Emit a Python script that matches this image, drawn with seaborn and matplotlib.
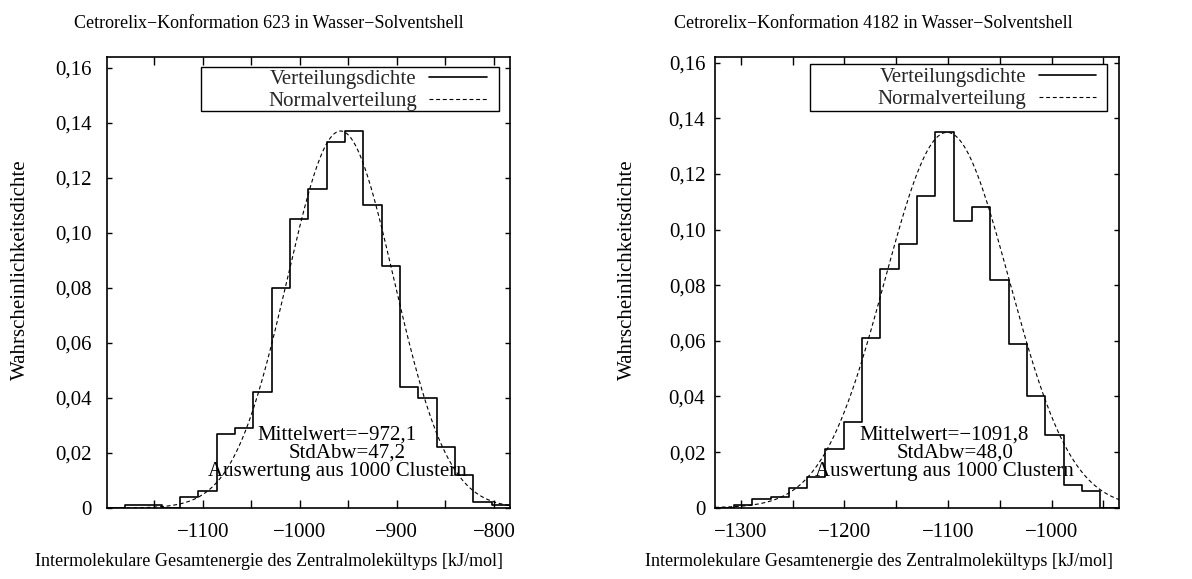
import numpy as np
import pandas as pd
import matplotlib
matplotlib.use("Agg")
import matplotlib.pyplot as plt
import seaborn as sns
from matplotlib.patches import Rectangle
from matplotlib.lines import Line2D

# ---------------- data ----------------
titles = ["Cetrorelix\u2212Konformation 623 in Wasser\u2212Solventshell",
          "Cetrorelix\u2212Konformation 4182 in Wasser\u2212Solventshell"]
xlabel = "Intermolekulare Gesamtenergie des Zentralmolekültyps [kJ/mol]"
ylabel = "Wahrscheinlichkeitsdichte"
legend_labels = ["Verteilungsdichte", "Normalverteilung"]

# left panel (Konformation 623)
left_bin_start = -1198.88
left_bin_width = 18.88
left_density = [0.0, 0.001, 0.001, 0.0, 0.004, 0.006, 0.027, 0.029, 0.042, 0.080, 0.105,
                0.116, 0.133, 0.137, 0.110, 0.088, 0.044, 0.040, 0.022, 0.012, 0.002, 0.001]
left_norm_center, left_norm_sigma, left_norm_peak = -958.0, 55.0, 0.137
left_stats = ["Mittelwert=\u2212972,1", "StdAbw=47,2", "Auswertung aus 1000 Clustern"]
left_xlim = (-1198.9, -783.5)
left_ylim = (0, 0.164)
left_xticks = [-1150, -1100, -1050, -1000, -950, -900, -850, -800]
left_xticklabels = ["", "\u22121100", "", "\u22121000", "", "\u2212900", "", "\u2212800"]

# right panel (Konformation 4182)
right_bin_start = -1324.49
right_bin_width = 17.69
right_density = [0.0, 0.001, 0.003, 0.004, 0.007, 0.011, 0.021, 0.031, 0.061, 0.086, 0.095,
                 0.112, 0.135, 0.103, 0.108, 0.082, 0.059, 0.040, 0.026, 0.008, 0.006, 0.0]
right_norm_center, right_norm_sigma, right_norm_peak = -1101.0, 60.0, 0.135
right_stats = ["Mittelwert=\u22121091,8", "StdAbw=48,0", "Auswertung aus 1000 Clustern"]
right_xlim = (-1325.0, -934.7)
right_ylim = (0, 0.1622)
right_xticks = [-1300, -1250, -1200, -1150, -1100, -1050, -1000, -950]
right_xticklabels = ["\u22121300", "", "\u22121200", "", "\u22121100", "", "\u22121000", ""]

yticks = [0.0, 0.02, 0.04, 0.06, 0.08, 0.10, 0.12, 0.14, 0.16]
yticklabels = ["0", "0,02", "0,04", "0,06", "0,08", "0,10", "0,12", "0,14", "0,16"]

# ---------------- style ----------------
sns.set_theme(style="white")
plt.rcParams["font.family"] = ["Liberation Serif", "DejaVu Serif"]
plt.rcParams["axes.edgecolor"] = "black"
plt.rcParams["axes.linewidth"] = 1.2

W, H = 1192, 579
fig = plt.figure(figsize=(W / 100, H / 100), dpi=100)
fig.patch.set_facecolor("white")

def px_axes(x0, y_top, x1, y_bot):
    return fig.add_axes([x0 / W, 1 - y_bot / H, (x1 - x0) / W, (y_bot - y_top) / H])

ax1 = px_axes(106.7, 56.7, 510.0, 508.0)
ax2 = px_axes(715.0, 56.7, 1119.3, 507.7)

panels = [
    dict(ax=ax1, start=left_bin_start, width=left_bin_width, dens=left_density,
         mu=left_norm_center, sd=left_norm_sigma, pk=left_norm_peak, stats=left_stats,
         xlim=left_xlim, ylim=left_ylim, xt=left_xticks, xtl=left_xticklabels,
         legbox=(0.233, 0.8797, 0.9727, 0.978), stat_x=(0.571, 0.597, 0.571), ypad=11,
         leg_anchor=(0.942, 0.972)),
    dict(ax=ax2, start=right_bin_start, width=right_bin_width, dens=right_density,
         mu=right_norm_center, sd=right_norm_sigma, pk=right_norm_peak, stats=right_stats,
         xlim=right_xlim, ylim=right_ylim, xt=right_xticks, xtl=right_xticklabels,
         legbox=(0.235, 0.880, 0.970, 0.984), stat_x=(0.567, 0.593, 0.567), ypad=7,
         leg_anchor=(0.942, 0.976)),
]

for p in panels:
    ax = p["ax"]
    n = len(p["dens"])
    edges = [float(e) for e in (p["start"] + p["width"] * np.arange(n + 1))]
    centers = [0.5 * (edges[i] + edges[i + 1]) for i in range(n)]
    df = pd.DataFrame({"energy": centers, "dens": p["dens"]})
    sns.histplot(data=df, x="energy", weights="dens", bins=edges, element="step",
                 fill=False, color="black", linewidth=1.2, ax=ax)
    xs = np.linspace(p["xlim"][0], p["xlim"][1], 400)
    curve = pd.DataFrame({"energy": xs,
                          "dens": p["pk"] * np.exp(-0.5 * ((xs - p["mu"]) / p["sd"]) ** 2)})
    sns.lineplot(data=curve, x="energy", y="dens", color="black", linewidth=0.8,
                 linestyle=(0, (3.5, 2.5)), ax=ax)

    ax.set_xlim(*p["xlim"])
    ax.set_ylim(*p["ylim"])
    ax.set_xticks(p["xt"])
    ax.set_xticklabels(p["xtl"])
    ax.set_yticks(yticks)
    ax.set_yticklabels(yticklabels)
    ax.tick_params(axis="x", direction="in", length=5.5, width=1, top=True, bottom=True,
                   labelsize=15, pad=11, colors="black")
    ax.tick_params(axis="y", direction="in", length=3.6, width=1, left=True, right=True,
                   labelsize=15, pad=p["ypad"], colors="black")
    ax.set_xlabel("")
    ax.set_ylabel("")
    for s in ax.spines.values():
        s.set_visible(True)
        s.set_color("black")
        s.set_linewidth(1.2)
    ax.set_facecolor("white")

    # legend frame
    x0, y0, x1, y1 = p["legbox"]
    ax.add_patch(Rectangle((x0, y0), x1 - x0, y1 - y0, transform=ax.transAxes,
                           fill=True, facecolor="white", edgecolor="black", linewidth=1.0,
                           zorder=4))
    handles = [Line2D([], [], color="black", linewidth=1.2),
               Line2D([], [], color="black", linewidth=0.8, linestyle=(0, (3.5, 2.5)))]
    leg = ax.legend(handles, legend_labels, loc="upper right",
                    bbox_to_anchor=p["leg_anchor"], frameon=False, markerfirst=False,
                    fontsize=15, handlelength=2.75, handletextpad=0.6,
                    labelspacing=0.12, borderpad=0.0, borderaxespad=0.0)
    leg.set_zorder(5)

    # statistics text
    baselines = [0.1507, 0.1108, 0.0709]
    for txt, xx, yy in zip(p["stats"], p["stat_x"], baselines):
        ax.text(xx, yy, txt, transform=ax.transAxes, ha="center", va="baseline",
                fontsize=15, color="black", zorder=6)

# titles, axis labels (figure level)
fig.text(268.5 / W, 1 - 23 / H, titles[0], ha="center", va="center", fontsize=13, color="black")
fig.text(873 / W, 1 - 23 / H, titles[1], ha="center", va="center", fontsize=13, color="black")
fig.text(269 / W, 1 - 562 / H, xlabel, ha="center", va="center", fontsize=13, color="black")
fig.text(879 / W, 1 - 562 / H, xlabel, ha="center", va="center", fontsize=13, color="black")
fig.text(20 / W, 1 - 270 / H, ylabel, ha="center", va="center", rotation=90, fontsize=15, color="black")
fig.text(627 / W, 1 - 270 / H, ylabel, ha="center", va="center", rotation=90, fontsize=15, color="black")

fig.savefig("out.png", dpi=100, facecolor="white")
